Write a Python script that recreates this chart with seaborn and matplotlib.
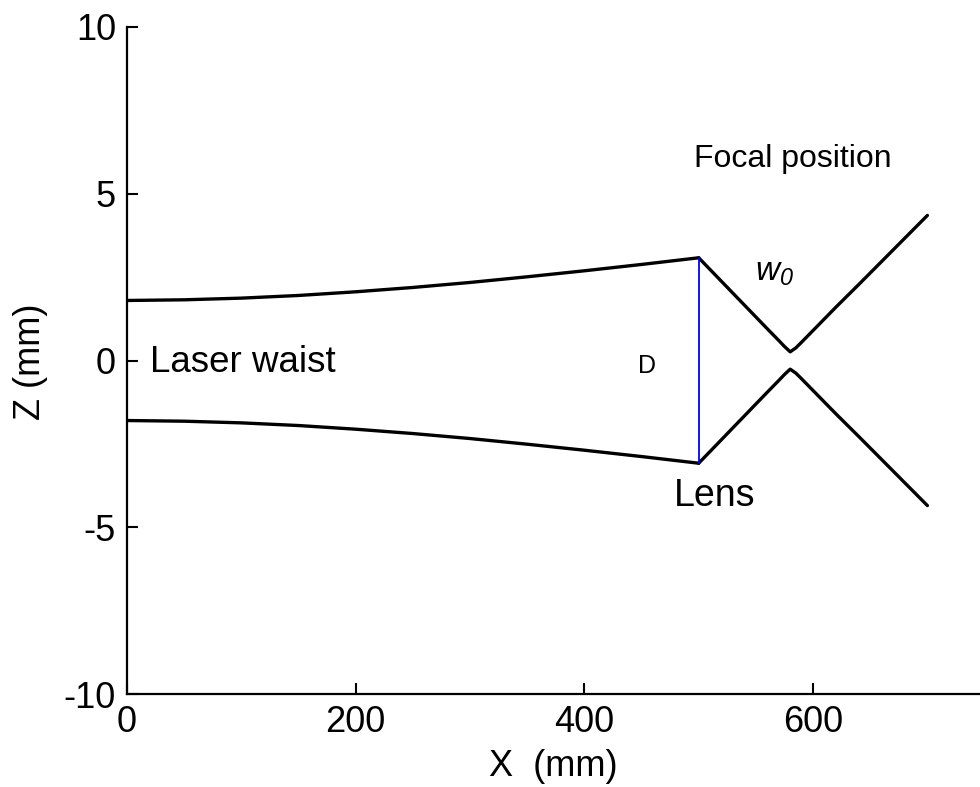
import matplotlib
matplotlib.use("Agg")
import matplotlib.pyplot as plt
import seaborn as sns
import pandas as pd

# Beam before lens (upper edge, mm)
x_pre = [0, 50, 100, 150, 200, 250, 300, 350, 400, 450, 500]
z_pre = [1.80, 1.82, 1.87, 1.95, 2.06, 2.19, 2.34, 2.51, 2.69, 2.88, 3.08]
# Beam after lens (upper edge, mm)
x_post = [500, 520, 540, 560, 570, 575, 580, 585, 590, 600, 620, 640, 660, 680, 700]
z_post = [3.08, 2.37, 1.66, 0.95, 0.60, 0.42, 0.26, 0.38, 0.55, 0.90, 1.60, 2.28, 2.97, 3.66, 4.35]
lens_x = 500
lens_half = 3.08

x_ticks = [0, 200, 400, 600]
y_ticks = [-10, -5, 0, 5, 10]

sns.set_theme(style="ticks")
plt.rcParams['font.family'] = ['Liberation Sans', 'DejaVu Sans']
plt.rcParams['text.color'] = 'black'
plt.rcParams['axes.labelcolor'] = 'black'
plt.rcParams['axes.unicode_minus'] = False
plt.rcParams['mathtext.fontset'] = 'custom'
plt.rcParams['mathtext.it'] = 'Liberation Sans:italic'
plt.rcParams['mathtext.rm'] = 'Liberation Sans:italic'

W, H = 980, 787
fig = plt.figure(figsize=(9.8, 7.87), dpi=100)
ax = fig.add_axes([127 / W, 1 - 694 / H, 1.0 - 127 / W, (694 - 27) / H])

segments = []
for name, xs, zs in [("pre_up", x_pre, z_pre), ("post_up", x_post, z_post)]:
    segments.append(pd.DataFrame({"x": xs, "z": zs, "seg": name}))
    segments.append(pd.DataFrame({"x": xs, "z": [-v for v in zs], "seg": name.replace("up", "lo")}))
df = pd.concat(segments, ignore_index=True)

sns.lineplot(data=df, x="x", y="z", units="seg", estimator=None, sort=False,
             color="black", linewidth=2.4, ax=ax, legend=False)
lens_df = pd.DataFrame({"x": [lens_x, lens_x], "z": [-lens_half, lens_half]})
sns.lineplot(data=lens_df, x="x", y="z", estimator=None, sort=False,
             color="#0000ff", linewidth=1.3, ax=ax)

ax.set_xticks(x_ticks)
ax.set_yticks(y_ticks)
ax.set_xticklabels([str(t) for t in x_ticks])
ax.set_yticklabels([str(t) for t in y_ticks])
ax.set_xlim(0, 746)
ax.set_ylim(-10, 10)
ax.tick_params(direction='in', length=8, width=1.5, labelsize=26, colors='black', pad=8)
for s in ['top', 'right']:
    ax.spines[s].set_visible(False)
for s in ['left', 'bottom']:
    ax.spines[s].set_linewidth(1.6)
    ax.spines[s].set_color('black')

ax.set_xlabel("")
ax.set_ylabel("")
fig.text(553 / W, 1 - 767 / H, "X  (mm)", fontsize=26, ha='center', va='center')
fig.text(30 / W, 1 - 362 / H, "Z (mm)", fontsize=26, ha='center', va='center', rotation=90)

ax.text(20, -0.05, "Laser waist", fontsize=26.5, va='center', ha='left')
ax.text(455, -0.15, "D", fontsize=18, va='center', ha='center')
ax.text(514, -4.05, "Lens", fontsize=27, va='center', ha='center')
ax.text(582, 6.05, "Focal position", fontsize=23, va='center', ha='center')
ax.text(549, 2.65, r"$\mathit{w}_\mathit{0}$", fontsize=24, va='center', ha='left')

fig.savefig("out.png", dpi=100)
